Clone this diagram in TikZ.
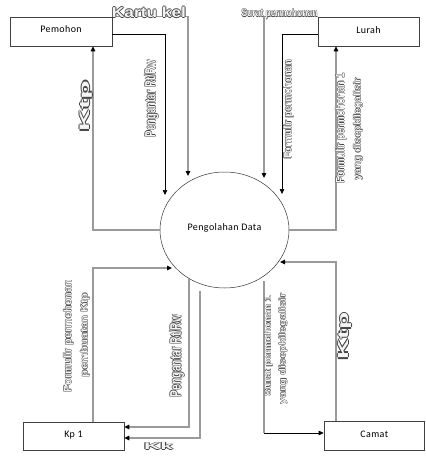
\documentclass[tikz,border=0pt]{standalone}
\usepackage{fontspec}
\usepackage{graphicx}
\usetikzlibrary{arrows.meta,shapes.geometric}
\setmainfont{Liberation Sans}
\newfontfamily\boxfont[LetterSpace=4]{Carlito}
\newfontfamily\lblfont{Liberation Sans}
\definecolor{olc}{HTML}{454545}
\definecolor{olf}{HTML}{F4F4F4}
\definecolor{lgray}{HTML}{9A9A9A}
\newcommand\olt[2]{{\def\oltx{#2}\rlap{\kern-#1\textcolor{olc}{\oltx}}\rlap{\kern#1\textcolor{olc}{\oltx}}\rlap{\raisebox{#1}{\textcolor{olc}{\oltx}}}\rlap{\raisebox{-#1}{\textcolor{olc}{\oltx}}}\textcolor{olf}{\oltx}}}
\newcommand\lbl[4]{\resizebox*{#1}{#2}{\lblfont\bfseries\olt{#3}{#4}}}
\tikzset{
  ent/.style={draw=black!75, line width=0.6pt, inner sep=0pt, font=\boxfont\fontsize{10}{12}\selectfont},
  gl/.style={draw=lgray, line width=1.1pt},
  bl/.style={draw=black, line width=0.6pt},
  ar/.style={-{Triangle[length=5pt,width=4.5pt,color=black]}},
  lab/.style={inner sep=0pt}
}
\begin{document}
\begin{tikzpicture}[x=1pt,y=-1pt]
\useasboundingbox (0,0) rectangle (425,457);
% entities
\node[ent, minimum width=102pt, minimum height=29pt] (pem) at (61,31.5) {\raisebox{4pt}{Pemohon}};
\node[ent, minimum width=101pt, minimum height=29pt] (lurah) at (368.5,31.5) {\raisebox{3.5pt}{Lurah}};
\node[ent, minimum width=101pt, minimum height=28pt] (kp) at (73.5,436) {\raisebox{2.5pt}{Kp 1}};
\node[ent, minimum width=100.5pt, minimum height=29pt] (camat) at (374.25,435.5) {\raisebox{3pt}{Camat}};
\node[draw=black!80, line width=0.5pt, ellipse, minimum width=129pt, minimum height=116pt, inner sep=0pt,
      font=\boxfont\fontsize{10}{12}\selectfont] (pd) at (224.5,230) {\raisebox{5pt}{Pengolahan Data}};
% helper coordinates
\coordinate (a1) at (188,176);
\coordinate (a2) at (165,195);
\coordinate (x93) at (93,0);
\coordinate (a4) at (264,178);
\coordinate (a5) at (282,194);
\coordinate (x336) at (336,0);
\coordinate (a7) at (172,268);
\coordinate (s8) at (189,279);
\coordinate (s9) at (200,291);
\coordinate (s10) at (264,281);
\coordinate (c10) at (264,433);
\coordinate (a11) at (280,262);
% connectors
\draw[gl, ar] (pem.north east) -| (a1);
\draw[bl, ar] ([yshift=-2.5pt]pem.east) -| (a2);
\draw[gl, ar] (pd.west) -| (pem.south -| x93);
\draw[gl, ar] (lurah.north west) -| (a4);
\draw[bl, ar] ([yshift=-2.5pt]lurah.west) -| (a5);
\draw[gl, ar] (pd.east) -| (lurah.south -| x336);
\draw[gl, ar] (kp.north -| x93) |- (a7);
\draw[gl, ar] (s8) |- ([yshift=9pt]kp.east);
\draw[gl, ar] (s9) |- ([yshift=-2pt]kp.east);
\draw[gl] (s10) -- (c10);
\draw[bl, ar] (c10) -- (camat.west |- c10);
\draw[gl, ar] (camat.north -| x336) |- (a11);
% labels
\node[lab] (l1) at (149,12.5) {\lbl{74pt}{12pt}{0.5pt}{Kartu kel}};
\node[lab] (l2) at (279.5,14) {\lbl{76pt}{11pt}{0.35pt}{Surat permohonan}};
\node[lab, rotate=90] (l3) at (151.5,98.5) {\lbl{77pt}{15pt}{0.4pt}{Pengantar Rt/Rw}};
\node[lab, rotate=90] (l4) at (86,106.5) {\lbl{51pt}{14pt}{0.6pt}{Ktp}};
\node[lab, rotate=90] (l5) at (288.5,109.5) {\lbl{99pt}{11pt}{0.35pt}{Formulir permohonan}};
\node[lab, rotate=90] (l6a) at (341,128) {\lbl{110pt}{12pt}{0.35pt}{Formulir permohonan 1}};
\node[lab, rotate=90] (l6b) at (358,129) {\lbl{102pt}{10pt}{0.35pt}{yang disepkilegalisir}};
\node[lab, rotate=90] (l7a) at (68.5,336) {\lbl{112pt}{11pt}{0.35pt}{Formulir permohonan}};
\node[lab, rotate=90] (l7b) at (85,335) {\lbl{84pt}{10pt}{0.35pt}{pembuatan Ktp}};
\node[lab, rotate=90] (l8) at (177,356) {\lbl{82pt}{16pt}{0.5pt}{Pengantar Rt/Rw}};
\node[lab] (l9) at (158.5,446) {\lbl{29pt}{8pt}{0.5pt}{Kk}};
\node[lab, rotate=90] (l10a) at (268.5,346) {\lbl{100pt}{9pt}{0.35pt}{Surat permohonan 1}};
\node[lab, rotate=90] (l10b) at (283,349) {\lbl{111pt}{9pt}{0.35pt}{yang disepkilegalisir}};
\node[lab, rotate=90] (l11) at (345,336) {\lbl{47pt}{15pt}{0.6pt}{Ktp}};
\end{tikzpicture}
\end{document}
